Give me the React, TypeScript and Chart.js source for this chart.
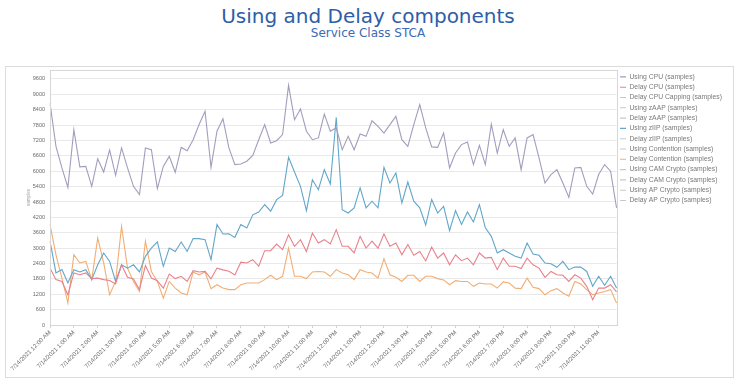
import React, { useEffect, useRef } from 'react';
import { Chart, registerables } from 'chart.js';

Chart.register(...registerables);

const DATE = '7/14/2021';
const hourLabels = [
  '12:00 AM', '1:00 AM', '2:00 AM', '3:00 AM', '4:00 AM', '5:00 AM',
  '6:00 AM', '7:00 AM', '8:00 AM', '9:00 AM', '10:00 AM', '11:00 AM',
  '12:00 PM', '1:00 PM', '2:00 PM', '3:00 PM', '4:00 PM', '5:00 PM',
  '6:00 PM', '7:00 PM', '8:00 PM', '9:00 PM', '10:00 PM', '11:00 PM',
];
const quarterMinutes = ['00', '15', '30', '45'];

const yTickValues = [0, 600, 1200, 1800, 2400, 3000, 3600, 4200, 4800, 5400, 6000, 6600, 7200, 7800, 8400, 9000, 9600];

const legendNames = [
  'Using CPU (samples)',
  'Delay CPU (samples)',
  'Delay CPU Capping (samples)',
  'Using zAAP (samples)',
  'Delay zAAP (samples)',
  'Using zIIP (samples)',
  'Delay zIIP (samples)',
  'Using Contention (samples)',
  'Delay Contention (samples)',
  'Using CAM Crypto (samples)',
  'Delay CAM Crypto (samples)',
  'Using AP Crypto (samples)',
  'Delay AP Crypto (samples)',
];

const usingCPU = [
  8660, 6970, 6130, 5370, 7620, 6170, 6190, 5410, 6490, 5970, 6830, 5840,
  6910, 6130, 5410, 5090, 6910, 6840, 5320, 6190, 6580, 5960, 6930, 6800,
  7230, 7820, 8340, 6150, 7560, 8050, 6910, 6260, 6280, 6390, 6620, 7230,
  7820, 7100, 7190, 7430, 9350, 8010, 8430, 7560, 7230, 7300, 8230, 7560,
  7690, 6840, 7360, 6840, 7450, 7360, 7970, 7750, 7490, 7820, 8140, 7230,
  6970, 7820, 8600, 7690, 6950, 6930, 7490, 6130, 6710, 7040, 7140, 6260,
  7010, 6260, 7840, 6710, 7620, 6970, 7300, 6060, 7300, 7430, 6520, 5540,
  5870, 6060, 5540, 4980, 6130, 6150, 5410, 5110, 5870, 6260, 6000, 4570,
];

const usingZIIP = [
  3270, 2030, 2160, 1640, 2160, 2070, 2160, 1770, 2350, 2810, 2480, 1700,
  2350, 2220, 2350, 2070, 2680, 3000, 3240, 2290, 3000, 2870, 3240, 2870,
  3370, 3370, 3330, 2550, 3920, 3550, 3560, 3420, 3920, 3790, 4300, 4410,
  4700, 4440, 4890, 5060, 6540, 5970, 5410, 4460, 5670, 5280, 6060, 5500,
  8100, 4500, 4370, 4570, 5350, 4570, 4830, 4570, 6150, 5540, 5930, 4760,
  5580, 4830, 4570, 3900, 4900, 4370, 4630, 3680, 4460, 3920, 4410, 4020,
  4700, 3790, 3460, 2810, 2940, 2810, 2680, 2610, 3200, 2770, 2720, 2420,
  2390, 2250, 2480, 2160, 2260, 2260, 2090, 1510, 1900, 1550, 1900, 1440,
];

const delayCPU = [
  2220, 1770, 1700, 1180, 2030, 1960, 2030, 1810, 1830, 1770, 1740, 1600,
  2350, 1860, 1800, 1380, 2320, 1830, 1730, 1440, 1990, 1810, 1900, 1700,
  2120, 2070, 2090, 1800, 2220, 2150, 2100, 1950, 2450, 2420, 2550, 2290,
  2900, 2900, 3160, 2940, 3520, 3070, 3330, 2870, 3590, 3200, 3330, 3160,
  3720, 3070, 3070, 2810, 3460, 3000, 3270, 3000, 3550, 3070, 3200, 2740,
  3140, 2720, 2870, 2500, 3040, 2610, 2810, 2350, 2740, 2510, 2610, 2350,
  2810, 2610, 2640, 2160, 2610, 2290, 2290, 2200, 2610, 2350, 2220, 1860,
  2090, 1960, 1940, 1700, 1960, 1830, 1510, 990, 1440, 1440, 1570, 1290,
];

const delayContention = [
  3920, 2740, 1830, 860, 2740, 2420, 2480, 1770, 3400, 2420, 1180, 1700,
  3850, 2220, 1700, 1310, 3270, 2090, 1700, 1050, 1700, 1440, 1250, 1180,
  2070, 1960, 2070, 1420, 1570, 1440, 1380, 1380, 1570, 1640, 1640, 1640,
  1770, 1940, 1770, 1900, 3000, 1900, 1900, 1810, 2070, 2090, 2070, 1900,
  2160, 2030, 1960, 1770, 2160, 2070, 2030, 1830, 2590, 1960, 1860, 1700,
  1940, 1940, 1700, 1900, 1900, 1810, 1760, 1570, 1730, 1700, 1700, 1510,
  1640, 1600, 1600, 1440, 1680, 1640, 1440, 1420, 1830, 1470, 1420, 1180,
  1340, 1420, 1250, 1120, 1700, 1600, 1380, 1180, 1250, 1310, 1380, 860,
];

const seriesData: Record<string, number[]> = {
  'Using CPU (samples)': usingCPU,
  'Delay CPU (samples)': delayCPU,
  'Using zIIP (samples)': usingZIIP,
  'Delay Contention (samples)': delayContention,
};

const seriesColors: Record<string, string> = {
  'Using CPU (samples)': '#a29dbd',
  'Delay CPU (samples)': '#e8818b',
  'Using zIIP (samples)': '#62a6c9',
  'Delay Contention (samples)': '#f2ad72',
};

const categories: string[] = [];
hourLabels.forEach((h) => {
  quarterMinutes.forEach((m) => {
    categories.push(`${DATE} ${h.replace(':00', ':' + m)}`);
  });
});

const plotFrame = {
  id: 'plotFrame',
  afterDraw(chart: any) {
    const { ctx, chartArea } = chart;
    ctx.save();
    ctx.strokeStyle = '#d6d6d6';
    ctx.lineWidth = 1;
    ctx.strokeRect(Math.round(chartArea.left) + 0.5, Math.round(chartArea.top) + 0.5,
      Math.round(chartArea.right - chartArea.left), Math.round(chartArea.bottom - chartArea.top));
    ctx.restore();
  },
};

export default function App() {
  const ref = useRef<HTMLCanvasElement>(null);

  useEffect(() => {
    const datasets = legendNames.map((name) => ({
      label: name,
      data: seriesData[name] || [],
      borderColor: seriesColors[name] || '#c8c8c8',
      backgroundColor: seriesColors[name] || '#c8c8c8',
      borderWidth: 1.1,
      pointRadius: 0,
      tension: 0,
      fill: false,
    }));

    const chart = new Chart(ref.current!, {
      type: 'line',
      data: { labels: categories, datasets },
      plugins: [plotFrame],
      options: {
        responsive: false,
        animation: false,
        devicePixelRatio: 1,
        layout: { padding: { top: 70, right: 4, bottom: 0, left: 0 } },
        plugins: {
          tooltip: { enabled: false },
          title: { display: false },
          legend: {
            position: 'right',
            align: 'start',
            labels: {
              usePointStyle: true,
              pointStyle: 'line',
              pointStyleWidth: 6,
              padding: 3.5,
              color: '#7a7a7a',
              font: { family: 'Liberation Sans', size: 6.8 },
            },
          },
        },
        scales: {
          x: {
            type: 'category',
            offset: false,
            afterFit: (scale: any) => { scale.height = 56; },
            grid: { drawOnChartArea: false, drawTicks: true, tickLength: 3, color: '#d0d0d0' },
            border: { display: false },
            ticks: {
              autoSkip: false,
              maxRotation: 45,
              minRotation: 45,
              padding: 1,
              color: '#6a6a6a',
              font: { family: 'Liberation Sans', size: 6 },
              callback: (_v: any, i: number) => (i % 4 === 0 ? `${DATE} ${hourLabels[i / 4]}` : null),
            },
          },
          y: {
            min: 0,
            max: 9950,
            afterFit: (scale: any) => { scale.width = 50; },
            afterBuildTicks: (scale: any) => { scale.ticks = yTickValues.map((v) => ({ value: v })); },
            grid: { color: '#e9e9e9', drawTicks: false },
            border: { display: false },
            ticks: {
              padding: 5,
              color: '#6a6a6a',
              font: { family: 'Liberation Sans', size: 5.5 },
              callback: (v: any) => String(v),
            },
            title: {
              display: true,
              text: 'samples',
              color: '#a0a0a0',
              font: { family: 'Liberation Sans', size: 4.5 },
              padding: { top: 26, bottom: 0 },
            },
          },
        },
      },
    } as any);
    return () => chart.destroy();
  }, []);

  return (
    <div style={{ position: 'absolute', left: 0, top: 0, width: 736, height: 381, background: '#ffffff', overflow: 'hidden' }}>
      <div style={{ position: 'absolute', left: 5, top: 66, width: 729, height: 312, border: '1px solid #dcdcdc', boxSizing: 'border-box' }} />
      <div style={{ position: 'absolute', left: 0, top: 3, width: 736, textAlign: 'center', fontFamily: 'DejaVu Sans', fontSize: 20, lineHeight: '26px', color: '#2e5ea8' }}>
        Using and Delay components
      </div>
      <div style={{ position: 'absolute', left: 0, top: 26, width: 736, textAlign: 'center', fontFamily: 'DejaVu Sans', fontSize: 12, lineHeight: '14px', color: '#3a6bb5' }}>
        Service Class STCA
      </div>
      <canvas ref={ref} width={736} height={381} style={{ position: 'absolute', left: 0, top: 0 }} />
    </div>
  );
}
